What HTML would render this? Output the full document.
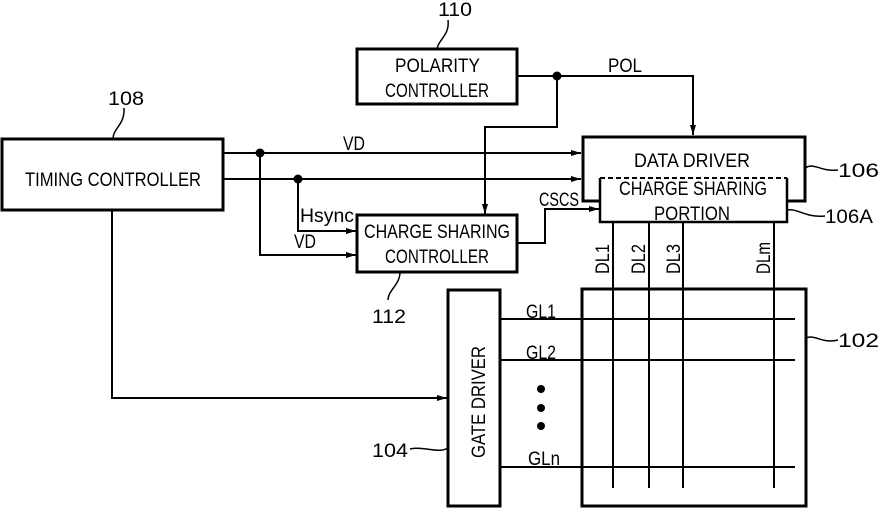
<!DOCTYPE html>
<html><head><meta charset="utf-8"><style>
html,body{margin:0;padding:0;background:#fff;}
svg{display:block;}
text{font-family:"Liberation Sans",sans-serif;font-size:19px;fill:#000;}
</style></head><body>
<svg width="879" height="508" viewBox="0 0 879 508" xmlns="http://www.w3.org/2000/svg">
<defs><marker id="a" markerWidth="10" markerHeight="8" refX="10" refY="4" orient="auto" markerUnits="userSpaceOnUse"><path d="M0,1 L10,4 L0,7 Z" fill="#000"/></marker></defs>
<g fill="none" stroke="#000" stroke-width="2">
<rect x="2" y="139" width="221" height="71" stroke-width="3"/>
<rect x="357" y="49" width="160" height="55" stroke-width="3"/>
<rect x="583" y="137" width="222" height="64" stroke-width="3"/>
<rect x="357" y="215" width="160" height="57" stroke-width="3"/>
<rect x="448" y="290" width="52" height="216" stroke-width="3"/>
<rect x="582" y="289" width="224" height="217" stroke-width="3"/>
<rect x="600" y="178" width="187" height="44" fill="#fff" stroke="none"/>
<path d="M600,178 V222 H787 V178" stroke-width="2.5"/>
<path d="M600,178 H787" stroke-dasharray="5,3"/>
<path d="M223,153 H581" marker-end="url(#a)"/>
<path d="M223,179 H581" marker-end="url(#a)"/>
<path d="M260,153 V255 H356" marker-end="url(#a)"/>
<path d="M298,179 V231 H356" marker-end="url(#a)"/>
<path d="M517,76 H693 V135" marker-end="url(#a)"/>
<path d="M557,76 V127 H485 V214" marker-end="url(#a)"/>
<path d="M517,243 H545 V209 H599" marker-end="url(#a)"/>
<path d="M112,210 V398 H447" marker-end="url(#a)"/>
<path d="M613,222 V488 M649,222 V488 M683,222 V488 M774,222 V488"/>
<path d="M500,319 H795 M500,360 H795 M500,467 H795"/>
<path d="M113,139 C113,128 125,125 124,108" stroke-width="1.5"/>
<path d="M437,49 C438,40 450,35 448,20" stroke-width="1.5"/>
<path d="M400,272 C400,285 388,290 388,300" stroke-width="1.5"/>
<path d="M805,168 C815,162 820,172 838,170" stroke-width="1.5"/>
<path d="M787,210 C798,208 805,218 825,216" stroke-width="1.5"/>
<path d="M806,338 C815,334 822,344 838,340" stroke-width="1.5"/>
<path d="M410,449 C425,446 438,454 448,448" stroke-width="1.5"/>
</g>
<g fill="#000">
<circle cx="260" cy="153" r="4.5"/><circle cx="298" cy="179" r="4.5"/><circle cx="557" cy="76" r="4.5"/>
<circle cx="541" cy="389" r="4"/><circle cx="541" cy="408" r="4"/><circle cx="541" cy="426" r="4"/>
</g>
<g lengthAdjust="spacingAndGlyphs">
<text x="25" y="186" textLength="176" lengthAdjust="spacingAndGlyphs">TIMING CONTROLLER</text>
<text x="395" y="72" textLength="85" lengthAdjust="spacingAndGlyphs">POLARITY</text>
<text x="385" y="97" textLength="104" lengthAdjust="spacingAndGlyphs">CONTROLLER</text>
<text x="364" y="238" textLength="146" lengthAdjust="spacingAndGlyphs">CHARGE SHARING</text>
<text x="385" y="263" textLength="104" lengthAdjust="spacingAndGlyphs">CONTROLLER</text>
<text x="634" y="167" textLength="116" lengthAdjust="spacingAndGlyphs">DATA DRIVER</text>
<text x="619" y="195" textLength="148" lengthAdjust="spacingAndGlyphs">CHARGE SHARING</text>
<text x="654" y="220" textLength="76" lengthAdjust="spacingAndGlyphs">PORTION</text>
<text x="343" y="150" textLength="22" lengthAdjust="spacingAndGlyphs">VD</text>
<text x="294" y="248" textLength="22" lengthAdjust="spacingAndGlyphs">VD</text>
<text x="300" y="222" textLength="54" lengthAdjust="spacingAndGlyphs">Hsync</text>
<text x="608" y="72" textLength="34" lengthAdjust="spacingAndGlyphs">POL</text>
<text x="539" y="206" textLength="40" lengthAdjust="spacingAndGlyphs">CSCS</text>
<text x="108" y="105" textLength="36" lengthAdjust="spacingAndGlyphs">108</text>
<text x="438" y="16" textLength="34" lengthAdjust="spacingAndGlyphs">110</text>
<text x="372" y="323" textLength="34" lengthAdjust="spacingAndGlyphs">112</text>
<text x="372" y="457" textLength="36" lengthAdjust="spacingAndGlyphs">104</text>
<text x="838" y="177" textLength="41" lengthAdjust="spacingAndGlyphs">106</text>
<text x="825" y="223" textLength="48" lengthAdjust="spacingAndGlyphs">106A</text>
<text x="838" y="347" textLength="41" lengthAdjust="spacingAndGlyphs">102</text>
<text x="526" y="318" textLength="30" lengthAdjust="spacingAndGlyphs">GL1</text>
<text x="526" y="359" textLength="30" lengthAdjust="spacingAndGlyphs">GL2</text>
<text x="528" y="465" textLength="32" lengthAdjust="spacingAndGlyphs">GLn</text>
<text transform="translate(485,458) rotate(-90)" textLength="112" lengthAdjust="spacingAndGlyphs">GATE DRIVER</text>
<text transform="translate(609,274) rotate(-90)" textLength="30" lengthAdjust="spacingAndGlyphs">DL1</text>
<text transform="translate(645,274) rotate(-90)" textLength="30" lengthAdjust="spacingAndGlyphs">DL2</text>
<text transform="translate(680,274) rotate(-90)" textLength="30" lengthAdjust="spacingAndGlyphs">DL3</text>
<text transform="translate(770,274) rotate(-90)" textLength="32" lengthAdjust="spacingAndGlyphs">DLm</text>
</g>
</svg>
</body></html>
